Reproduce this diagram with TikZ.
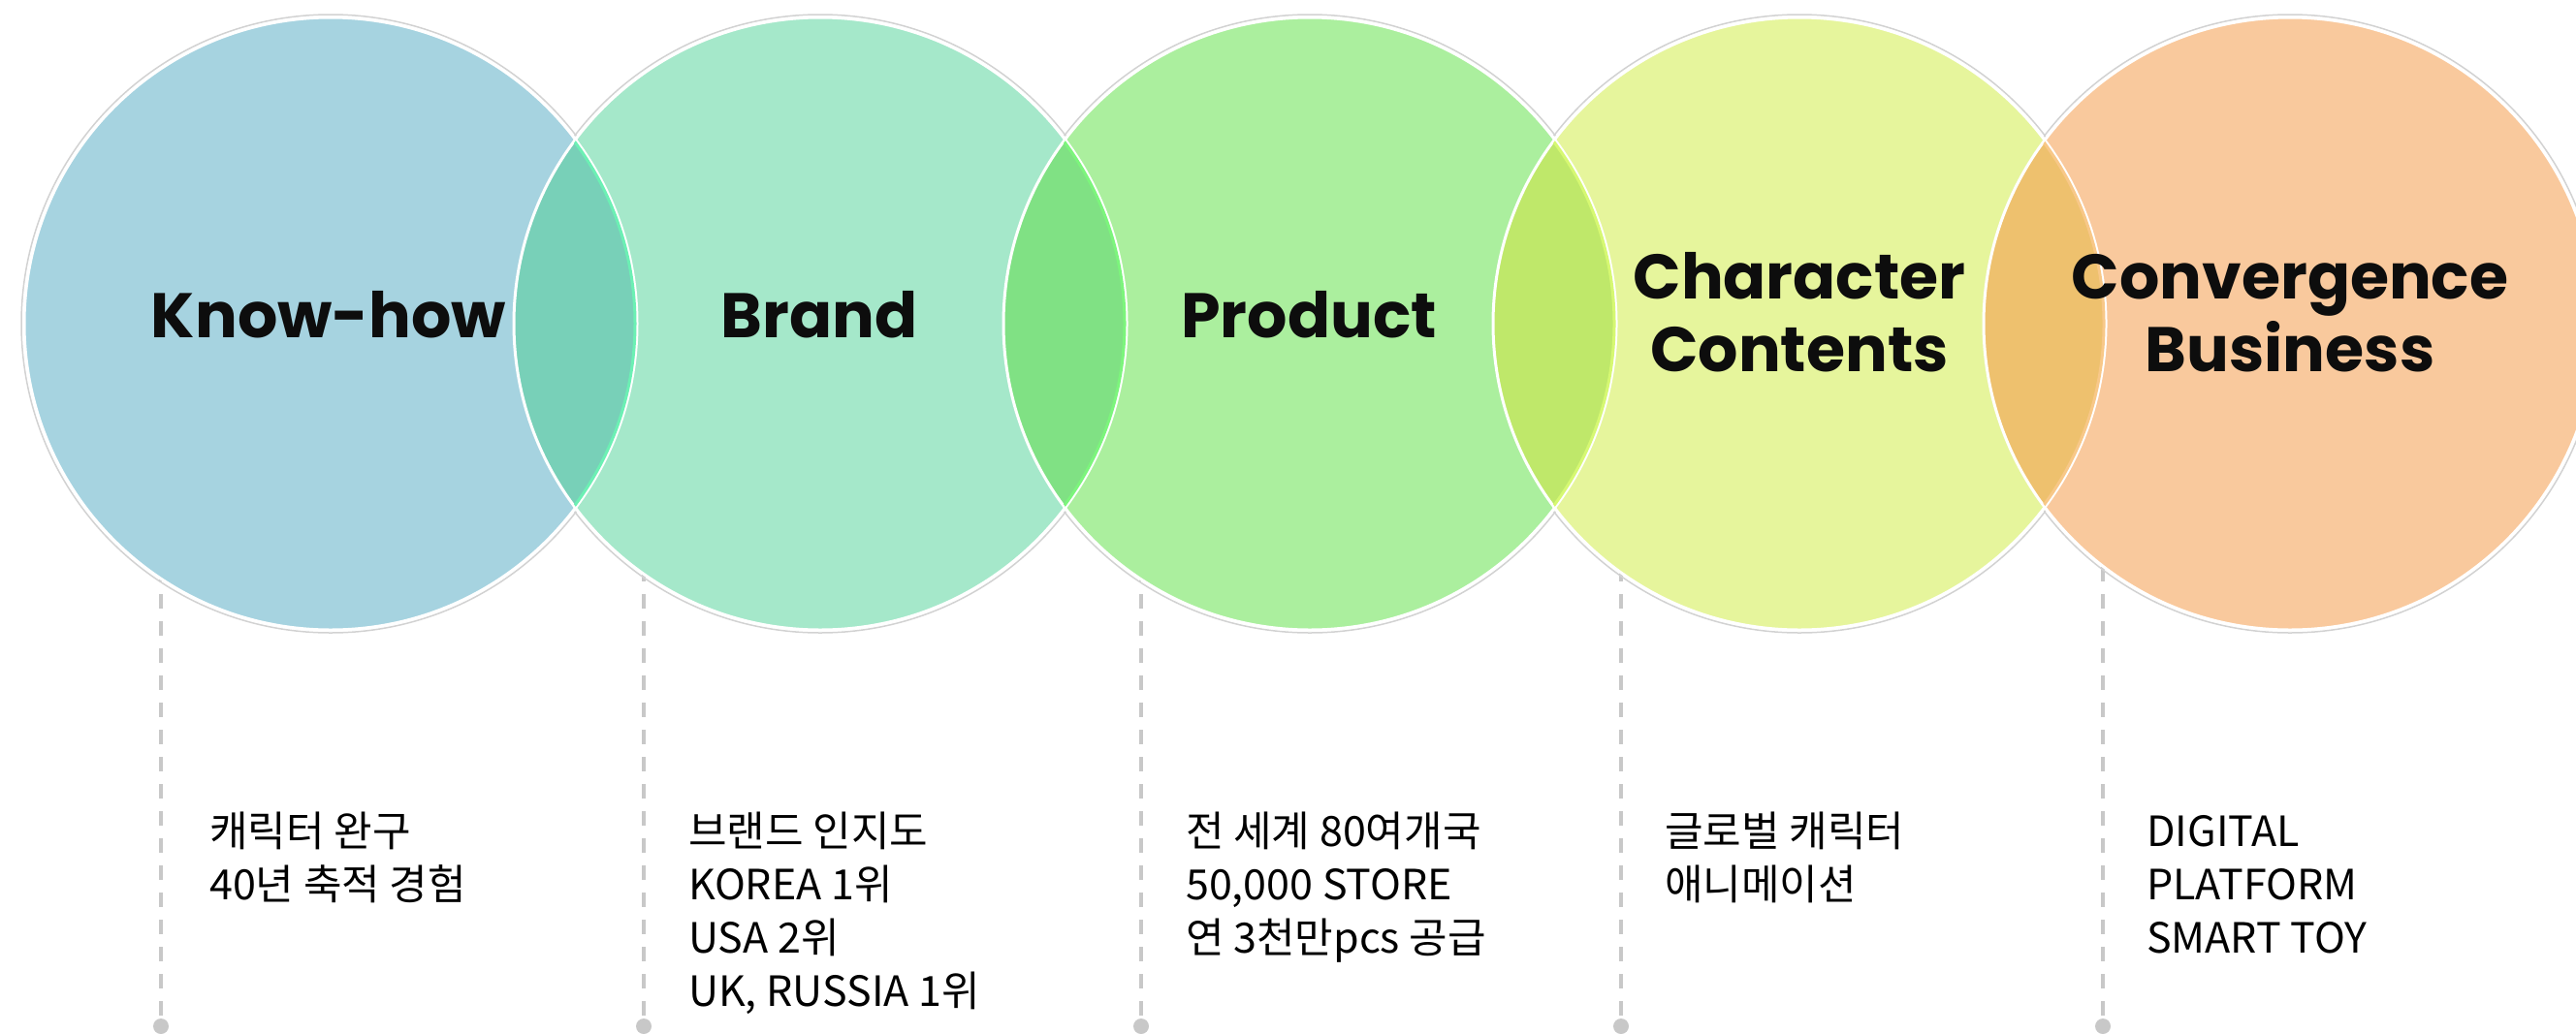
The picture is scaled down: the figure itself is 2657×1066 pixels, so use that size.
\documentclass[tikz,border=0pt]{standalone}
\usepackage{fontspec}
\setmainfont{Noto Sans CJK KR}
\newfontfamily\titlefont{Poppins}
\definecolor{cA}{HTML}{A6D3E0}
\definecolor{cB}{HTML}{A5E8CA}
\definecolor{cC}{HTML}{ABEF9E}
\definecolor{cD}{HTML}{E6F59C}
\definecolor{cE}{HTML}{F9C99D}
\definecolor{lAB}{HTML}{78D0B8}
\definecolor{lBC}{HTML}{80E184}
\definecolor{lCD}{HTML}{BFE86A}
\definecolor{lDE}{HTML}{EEC16E}
\definecolor{eAB}{HTML}{6CF0B4}
\definecolor{eBC}{HTML}{7CF57C}
\definecolor{eCD}{HTML}{D6F872}
\definecolor{eDE}{HTML}{F8C888}
\definecolor{rimgray}{HTML}{D2D2D2}
\definecolor{dashgray}{HTML}{C8C8C8}
\begin{document}
\begin{tikzpicture}[x=1pt,y=-1pt,
  bodytext/.style={anchor=base west, inner sep=0pt, text=black, font=\fontsize{43}{55}\selectfont},
  titletext/.style={anchor=base, inner sep=0pt, text=black!95, font=\titlefont\bfseries\fontsize{65}{75}\selectfont},
  dashline/.style={draw=dashgray, line width=3.5pt, dash pattern=on 15pt off 13pt},
  dotnode/.style={circle, fill=dashgray, draw=none, minimum size=16pt, inner sep=0pt},
  rim/.style={draw=rimgray, line width=1.5pt},
  whiteedge/.style={draw=white, line width=3pt}]
\useasboundingbox (0,0) rectangle (2657,1066);
\def\R{317}
\coordinate (cA) at (341,334);
\coordinate (cB) at (846,334);
\coordinate (cC) at (1351,334);
\coordinate (cD) at (1856,334);
\coordinate (cE) at (2362,334);

% dashed connectors
\coordinate (tA) at (166,585);
\coordinate (tB) at (664,585);
\coordinate (tC) at (1177,585);
\coordinate (tD) at (1672,585);
\coordinate (tE) at (2169,585);
\node[dotnode] (dA) at (166,1059) {};
\node[dotnode] (dB) at (664,1059) {};
\node[dotnode] (dC) at (1177,1059) {};
\node[dotnode] (dD) at (1672,1059) {};
\node[dotnode] (dE) at (2169,1059) {};
\draw[dashline] (tA) -- (dA);
\draw[dashline] (tB) -- (dB);
\draw[dashline] (tC) -- (dC);
\draw[dashline] (tD) -- (dD);
\draw[dashline] (tE) -- (dE);

% outer rims
\foreach \c in {cA,cB,cC,cD,cE} {\draw[rim] (\c) circle[radius=\R+2];}
% fills
\fill[cA] (cA) circle[radius=\R];
\fill[cB] (cB) circle[radius=\R];
\fill[cC] (cC) circle[radius=\R];
\fill[cD] (cD) circle[radius=\R];
\fill[cE] (cE) circle[radius=\R];
% lenses
\begin{scope}\clip (cA) circle[radius=\R]; \fill[lAB] (cB) circle[radius=\R];\end{scope}
\begin{scope}\clip (cB) circle[radius=\R]; \fill[lBC] (cC) circle[radius=\R];\end{scope}
\begin{scope}\clip (cC) circle[radius=\R]; \fill[lCD] (cD) circle[radius=\R];\end{scope}
\begin{scope}\clip (cD) circle[radius=\R]; \fill[lDE] (cE) circle[radius=\R];\end{scope}
% white edges
\foreach \c in {cA,cB,cC,cD,cE} {\draw[whiteedge] (\c) circle[radius=\R-1];}
% bright right edges inside lenses
\begin{scope}\clip (cB) circle[radius=\R-2]; \draw[eAB, line width=3pt] (cA) circle[radius=\R-3];\end{scope}
\begin{scope}\clip (cC) circle[radius=\R-2]; \draw[eBC, line width=3pt] (cB) circle[radius=\R-3];\end{scope}
\begin{scope}\clip (cD) circle[radius=\R-2]; \draw[eCD, line width=3pt] (cC) circle[radius=\R-3];\end{scope}
\begin{scope}\clip (cE) circle[radius=\R-2]; \draw[eDE, line width=3pt] (cD) circle[radius=\R-3];\end{scope}

% titles
\node[titletext] (kh) at (339,348) {Know-how};
\node[titletext] (br) at (845,348) {Brand};
\node[titletext] (pr) at (1350,348) {Product};
\node[titletext] (ch1) at (1856,308) {Character};
\node[titletext] (ch2) at (1856,383) {Contents};
\node[titletext] (cv1) at (2362,308) {Convergence};
\node[titletext] (cv2) at (2362,383) {Business};

% descriptions
\node[bodytext] (a1) at (216,873) {캐릭터 완구};
\node[bodytext] (a2) at (216,928) {40년 축적 경험};
\node[bodytext] (b1) at (710,873) {브랜드 인지도};
\node[bodytext] (b2) at (710,928) {KOREA 1위};
\node[bodytext] (b3) at (710,983) {USA 2위};
\node[bodytext] (b4) at (710,1038) {UK, RUSSIA 1위};
\node[bodytext] (p1) at (1223,873) {전 세계 80여개국};
\node[bodytext] (p2) at (1223,928) {50,000 STORE};
\node[bodytext] (p3) at (1223,983) {연 3천만pcs 공급};
\node[bodytext] (g1) at (1717,873) {글로벌 캐릭터};
\node[bodytext] (g2) at (1717,928) {애니메이션};
\node[bodytext] (s1) at (2214,873) {DIGITAL};
\node[bodytext] (s2) at (2214,928) {PLATFORM};
\node[bodytext] (s3) at (2214,983) {SMART TOY};
\end{tikzpicture}
\end{document}
